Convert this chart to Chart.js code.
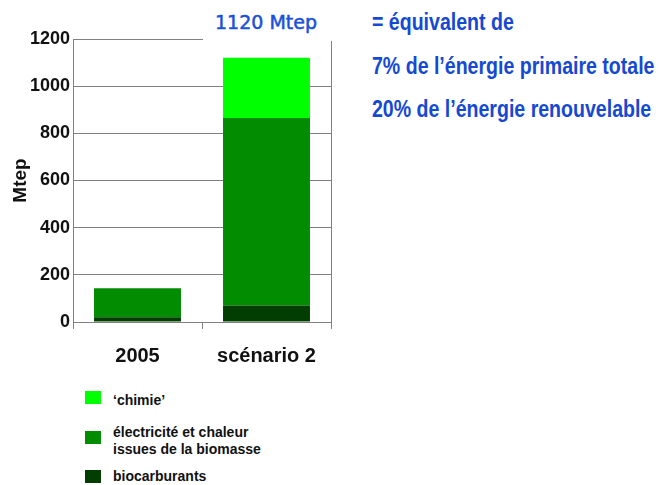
<!DOCTYPE html>
<html>
<head>
<meta charset="utf-8">
<script src="https://cdn.jsdelivr.net/npm/chart.js"></script>
<style>
  body { margin: 0; background: #fff; width: 659px; height: 485px; overflow: hidden; position: relative; font-family: "Liberation Sans", Arial, sans-serif; }
  #chart { position: absolute; left: 0; top: 0; }
  #cover { position: absolute; left: 203px; top: 0; width: 136px; height: 41px; background: #fff; }
  #total { position: absolute; left: 215px; top: 10px; font: 19px/24px "DejaVu Sans", sans-serif; color: #1a50dc; white-space: nowrap; -webkit-text-stroke: 0.5px #1a50dc; }
  #note div { position: absolute; left: 372px; font: bold 23px/24px "Liberation Sans", Arial, sans-serif; color: #1549d4; white-space: nowrap; transform: scaleX(0.85); transform-origin: 0 0; }
  .lg { position: absolute; left: 85px; }
  .lg i { position: absolute; left: 0; width: 16px; height: 13px; }
  .lg span { position: absolute; left: 28px; white-space: pre; font: bold 14px/17px "Liberation Sans", Arial, sans-serif; color: #111; }
  .lg:nth-child(1) { top: 391px; } .lg:nth-child(1) span { top: 1px; }
  .lg:nth-child(2) { top: 424px; } .lg:nth-child(2) i { top: 7px; }
  .lg:nth-child(3) { top: 468px; } .lg:nth-child(3) i { top: 2px; }
</style>
</head>
<body>
<canvas id="chart" width="340" height="370"></canvas>
<div id="cover"></div>
<div id="total">1120 Mtep</div>
<div id="note">
  <div style="top:10px">= équivalent de</div>
  <div style="top:54px">7% de l’énergie primaire totale</div>
  <div style="top:97px">20% de l’énergie renouvelable</div>
</div>
<div id="legend"></div>
<script>
// valeurs (Mtep)
const categories = ['2005', 'scénario 2'];
const biocarburants = [20, 70];
const electricite = [123, 795];
const chimie = [0, 255];
const yTicks = [0, 200, 400, 600, 800, 1000, 1200];

const seriesNames = ['biocarburants', 'électricité et chaleur\nissues de la biomasse', '‘chimie’'];
const seriesColors = ['#023e02', '#028c02', '#00ff00'];

const gridGray = '#808080';

Chart.defaults.font.family = '"Liberation Sans", Arial, sans-serif';
Chart.defaults.font.weight = 'bold';
Chart.defaults.color = '#000';

const datasets = [biocarburants, electricite, chimie].map((d, i) => ({
  label: seriesNames[i],
  data: d,
  backgroundColor: seriesColors[i],
  borderWidth: 0,
  categoryPercentage: 1,
  barPercentage: 0.674
}));

new Chart(document.getElementById('chart'), {
  type: 'bar',
  data: { labels: categories, datasets: datasets },
  options: {
    responsive: false,
    animation: false,
    layout: { padding: { top: 39, right: 9, left: 0, bottom: 0 } },
    plugins: { legend: { display: false }, tooltip: { enabled: false } },
    scales: {
      x: {
        stacked: true,
        afterFit: (s) => { s.height = 48; },
        grid: {
          offset: true,
          color: (c) => c.type === 'tick' ? 'rgba(0,0,0,0)' : gridGray,
          tickColor: gridGray,
          tickLength: 7
        },
        border: { display: true, color: gridGray },
        ticks: { padding: 15, font: { size: 20, weight: 'bold' }, color: '#111' }
      },
      y: {
        stacked: true,
        min: 0,
        max: 1200,
        afterFit: (s) => { s.width = 73; },
        afterBuildTicks: (s) => { s.ticks = yTicks.map(v => ({ value: v })); },
        grid: { color: gridGray, drawTicks: false },
        border: { display: true, color: gridGray },
        ticks: { padding: 3, font: { size: 18, weight: 'bold' }, color: '#111', callback: (v) => String(v) },
        title: { display: true, text: 'Mtep', font: { size: 19, weight: 'bold' }, color: '#111', padding: { top: 9, bottom: 0 } }
      }
    }
  }
});

// légende (ordre inverse de l'empilement)
const legend = document.getElementById('legend');
for (let i = seriesNames.length - 1; i >= 0; i--) {
  const item = document.createElement('div');
  item.className = 'lg';
  item.innerHTML = '<i style="background:' + seriesColors[i] + '"></i><span></span>';
  item.querySelector('span').textContent = seriesNames[i];
  legend.appendChild(item);
}
</script>
</body>
</html>
